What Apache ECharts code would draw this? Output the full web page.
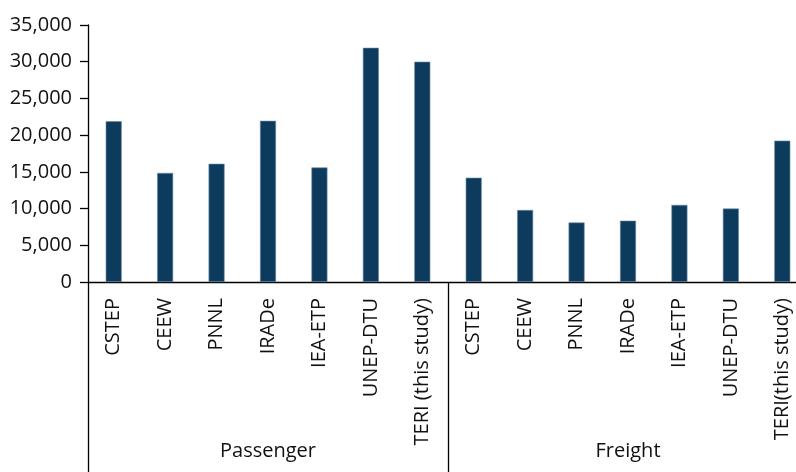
<!DOCTYPE html>
<html>
<head>
<meta charset="utf-8">
<script src="https://cdn.jsdelivr.net/npm/echarts@6/dist/echarts.min.js"></script>
<style>
html,body{margin:0;padding:0;background:#fff;overflow:hidden;width:796px;height:472px;}
#chart{width:820px;height:472px;}
</style>
</head>
<body>
<div id="chart"></div>
<script>
var categories = ["CSTEP","CEEW","PNNL","IRADe","IEA-ETP","UNEP-DTU","TERI (this study)",
                  "CSTEP","CEEW","PNNL","IRADe","IEA-ETP","UNEP-DTU","TERI(this study)"];
var groups = ["Passenger","Freight"];
var values = [21900, 14850, 16100, 21950, 15600, 31900, 30000,
              14200, 9800, 8100, 8350, 10500, 10000, 19250];
var yTicks = {min: 0, max: 35000, interval: 5000};

var chart = echarts.init(document.getElementById('chart'), null, {renderer:'canvas'});
var font = '"Open Sans", sans-serif';
var textColor = '#111';
chart.setOption({
  animation: false,
  grid: {left: 88, top: 25, right: 12, height: 257, containLabel: false},
  xAxis: [{
    type: 'category',
    data: categories,
    position: 'bottom',
    axisLine: {show: true, lineStyle: {color: '#000', width: 1.3}},
    axisTick: {show: false},
    axisLabel: {rotate: 90, interval: 0, margin: 16, fontSize: 20, fontFamily: font, color: textColor}
  }, {
    type: 'category',
    data: groups,
    position: 'bottom',
    boundaryGap: true,
    axisLine: {show: false},
    axisTick: {show: true, interval: 0, length: 192, inside: false, lineStyle: {color: '#000', width: 1.3}},
    axisLabel: {interval: 0, margin: 159, fontSize: 20, fontFamily: font, color: textColor}
  }],
  yAxis: {
    type: 'value',
    min: yTicks.min, max: yTicks.max, interval: yTicks.interval,
    splitLine: {show: false},
    axisLine: {show: true, lineStyle: {color: '#000', width: 1.3}},
    axisTick: {show: true, length: 8, lineStyle: {color: '#000', width: 1.3}},
    axisLabel: {
      margin: 16, fontSize: 20, fontFamily: font, color: textColor,
      formatter: function (v) { return v.toLocaleString('en-US'); }
    }
  },
  series: [{
    type: 'bar',
    data: values,
    barWidth: 16,
    itemStyle: {color: '#0d3b5e', borderColor: '#6d8ba5', borderWidth: 0.6}
  }]
});
</script>
</body>
</html>
